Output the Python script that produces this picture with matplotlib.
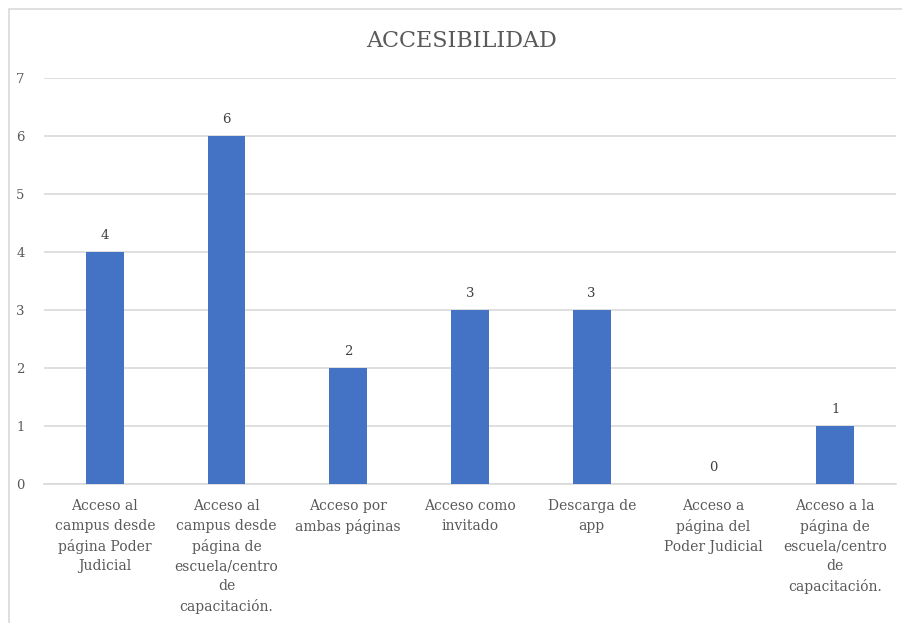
import matplotlib.pyplot as plt
from matplotlib.patches import Rectangle

# Data
categories = [
    'Acceso al\ncampus desde\npágina Poder\nJudicial',
    'Acceso al\ncampus desde\npágina de\nescuela/centro\nde\ncapacitación.',
    'Acceso por\nambas páginas',
    'Acceso como\ninvitado',
    'Descarga de\napp',
    'Acceso a\npágina del\nPoder Judicial',
    'Acceso a la\npágina de\nescuela/centro\nde\ncapacitación.',
]
values = [4, 6, 2, 3, 3, 0, 1]
yticks = [0, 1, 2, 3, 4, 5, 6, 7]

plt.rcParams['font.family'] = ['DejaVu Serif']
text_color = '#595959'

fig = plt.figure(figsize=(9.03, 6.23), dpi=100)
ax = fig.add_axes([44 / 903, 1 - 484 / 623, (896 - 44) / 903, (484 - 78) / 623])

x = range(len(categories))
bars = ax.bar(x, values, width=0.31, color='#4472C4', zorder=3)

# value labels above the bars
for xi, v in zip(x, values):
    ax.text(xi, v + 0.17, str(v), ha='center', va='bottom',
            fontsize=9.5, color='#404040')

ax.set_xlim(-0.5, len(categories) - 0.5)
ax.set_ylim(0, 7)
ax.set_yticks(yticks)
ax.set_xticks(list(x))
ax.set_xticklabels(categories, fontsize=10, color=text_color, linespacing=1.5)
ax.tick_params(axis='y', labelsize=9.5, labelcolor=text_color, length=0, pad=14)
ax.tick_params(axis='x', length=0, pad=11)
ax.grid(axis='y', color='#D9D9D9', linewidth=1.2, zorder=0)
for s in ['top', 'right', 'left']:
    ax.spines[s].set_visible(False)
ax.spines['bottom'].set_color('#D9D9D9')
ax.spines['bottom'].set_linewidth(1.2)

fig.text(462 / 903, 1 - 41 / 623, 'ACCESIBILIDAD', ha='center', va='center',
         fontsize=16, color=text_color)

# outer chart border (runs off the right and bottom edges)
fig.patches.append(Rectangle((9 / 903, -0.05), 1.05, 1 - 9 / 623 + 0.05,
                             transform=fig.transFigure, fill=False,
                             edgecolor='#D9D9D9', linewidth=1.2))

fig.savefig('out.png', dpi=100, facecolor='white')
